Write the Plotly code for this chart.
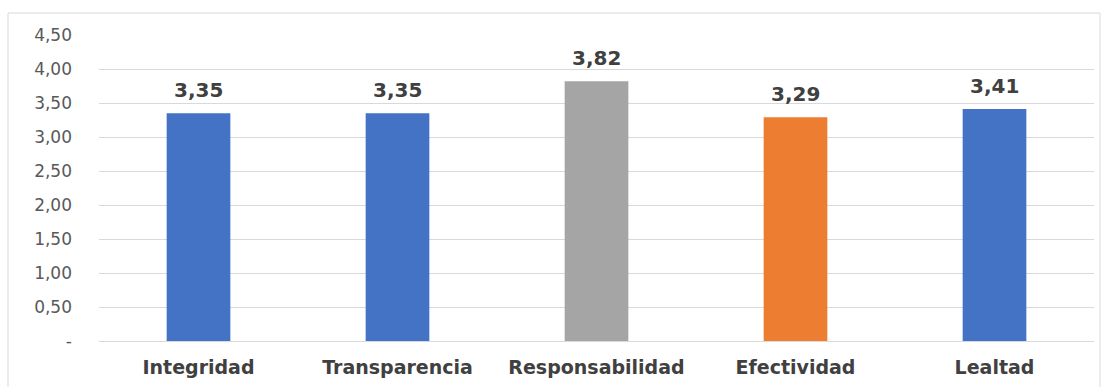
import plotly.graph_objects as go

categories = ["Integridad", "Transparencia", "Responsabilidad", "Efectividad", "Lealtad"]
values = [3.35, 3.35, 3.82, 3.29, 3.41]
bar_colors = ["#4472C4", "#4472C4", "#A5A5A5", "#ED7D31", "#4472C4"]
value_labels = ["3,35", "3,35", "3,82", "3,29", "3,41"]
tick_vals = [0, 0.5, 1, 1.5, 2, 2.5, 3, 3.5, 4, 4.5]
tick_text = ["-", "0,50", "1,00", "1,50", "2,00", "2,50", "3,00", "3,50", "4,00", "4,50"]

fig = go.Figure(go.Bar(
    x=categories, y=values, marker_color=bar_colors, width=0.32,
    marker_line_width=0, hoverinfo="skip",
))

for c, v, t in zip(categories, values, value_labels):
    fig.add_annotation(x=c, y=v, text=t, showarrow=False, yanchor="bottom", yshift=9,
                       font=dict(family="DejaVu Sans", size=20, color="#404040", weight="bold"))

L, R, T, B = 99, 14, 35, 46
W, H = 1108, 387
pw, ph = W - L - R, H - T - B
fig.add_shape(type="rect", xref="paper", yref="paper",
              x0=(8 - L) / pw, x1=(1100 - L) / pw,
              y0=(H - B - 400) / ph, y1=(H - B - 13) / ph,
              line=dict(color="#D9D9D9", width=1), fillcolor="rgba(0,0,0,0)", layer="below")

fig.update_layout(
    width=W, height=H, margin=dict(l=L, r=R, t=T, b=B, autoexpand=False),
    paper_bgcolor="white", plot_bgcolor="white", showlegend=False, bargap=0.68,
    font=dict(family="DejaVu Sans", color="#595959"),
)
fig.update_xaxes(showline=True, linecolor="#D9D9D9", linewidth=1, ticks="", showgrid=False,
                 automargin=False,
                 tickfont=dict(size=19, color="#404040", weight="bold"), ticklabelstandoff=9)
fig.update_yaxes(range=[0, 4.5], tickvals=tick_vals, ticktext=tick_text, showgrid=True,
                 automargin=False,
                 gridcolor="#D9D9D9", gridwidth=1, zeroline=False, ticks="",
                 tickfont=dict(size=17, color="#595959"), ticklabelstandoff=26)

fig.write_html("out.html")
